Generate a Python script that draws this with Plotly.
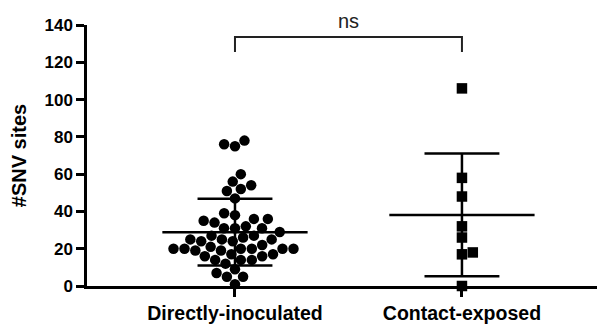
import numpy as np
import plotly.graph_objects as go

categories = ["Directly-inoculated", "Contact-exposed"]
direct_values = [78, 76, 75, 60, 56, 54, 52, 51, 47, 39, 36, 35, 38, 34, 36, 31, 32, 31, 31, 29,
                 25, 27, 24, 26, 27, 22, 20, 19, 19, 20, 20, 16, 21, 20, 20, 25, 20, 24, 25, 17,
                 14, 16, 14, 17, 14, 12, 9, 7, 5, 5, 1]
contact_values = [106, 58, 48, 32, 26, 18, 17, 0]
y_ticks = [0, 20, 40, 60, 80, 100, 120, 140]
sig_label = "ns"

FONT = "Liberation Sans, Arial, sans-serif"
W, H = 597, 327
ML, MR, MT, MB = 87, 0, 25, 41
XR = [-0.652, 1.595]
YR = [0, 140]
px_x = (W - ML - MR) / (XR[1] - XR[0])
px_y = (H - MT - MB) / (YR[1] - YR[0])


def swarm(vals, d=11.0):
    vals = np.asarray(vals, dtype=float)
    order = np.argsort(vals)
    placed = []
    xs = np.zeros(len(vals))
    flip = 1
    for i in order:
        y = vals[i] * px_y
        intervals = []
        for (xj, yj) in placed:
            dy = abs(y - yj)
            if dy < d:
                w = np.sqrt(d * d - dy * dy)
                intervals.append((xj - w, xj + w))
        cands = [0.0] + [a for a, b in intervals] + [b for a, b in intervals]
        cands.sort(key=lambda c: (round(abs(c), 3), -flip * c))
        best = 0.0
        for c in cands:
            if all(not (a + 1e-6 < c < b - 1e-6) for a, b in intervals):
                best = c
                break
        flip = -flip
        placed.append((best, y))
        xs[i] = best / px_x
    return xs


fig = go.Figure()
groups = [(direct_values, "circle"), (contact_values, "square")]
for gi, (vals, sym) in enumerate(groups):
    offs = swarm(vals)
    fig.add_trace(go.Scatter(
        x=gi + offs, y=vals, mode="markers",
        marker=dict(symbol=sym, size=10.5, color="black", line=dict(width=0)),
        cliponaxis=False, showlegend=False, hoverinfo="y"))
    m = float(np.mean(vals))
    s = float(np.std(vals, ddof=1))
    hw_m, hw_s = 0.32, 0.165
    fig.add_trace(go.Scatter(
        x=[gi - hw_m, gi + hw_m, None, gi - hw_s, gi + hw_s, None, gi - hw_s, gi + hw_s, None, gi, gi],
        y=[m, m, None, m + s, m + s, None, m - s, m - s, None, m - s, m + s],
        mode="lines", line=dict(color="black", width=2.5),
        showlegend=False, hoverinfo="skip", cliponaxis=False))

# significance bracket
fig.add_shape(type="path", xref="x", yref="y",
              path="M 0 125.5 L 0 133.5 L 1 133.5 L 1 125.5",
              line=dict(color="#222", width=2))
fig.add_annotation(x=0.5, y=133.5, xref="x", yref="y", text=sig_label, showarrow=False,
                   yanchor="bottom", yshift=3, font=dict(family=FONT, size=20, color="#222"))

fig.update_layout(
    width=W, height=H, margin=dict(l=ML, r=MR, t=MT, b=MB),
    paper_bgcolor="white", plot_bgcolor="white",
    xaxis=dict(range=XR, tickvals=[0, 1], ticktext=categories, showline=True,
               linecolor="black", linewidth=2.5, ticks="outside", ticklen=8, tickwidth=2.5,
               tickcolor="black", showgrid=False, zeroline=False,
               tickfont=dict(family=FONT, size=19.5, color="black", weight="bold")),
    yaxis=dict(range=YR, tickvals=y_ticks, showline=True, linecolor="black", linewidth=2.5,
               ticks="outside", ticklen=8, tickwidth=2.5, tickcolor="black",
               showgrid=False, zeroline=False,
               tickfont=dict(family=FONT, size=17, color="black", weight="bold"),
               title=dict(text="#SNV sites", standoff=13,
                          font=dict(family=FONT, size=20, color="black", weight="bold"))),
)

fig.write_html("out.html")
